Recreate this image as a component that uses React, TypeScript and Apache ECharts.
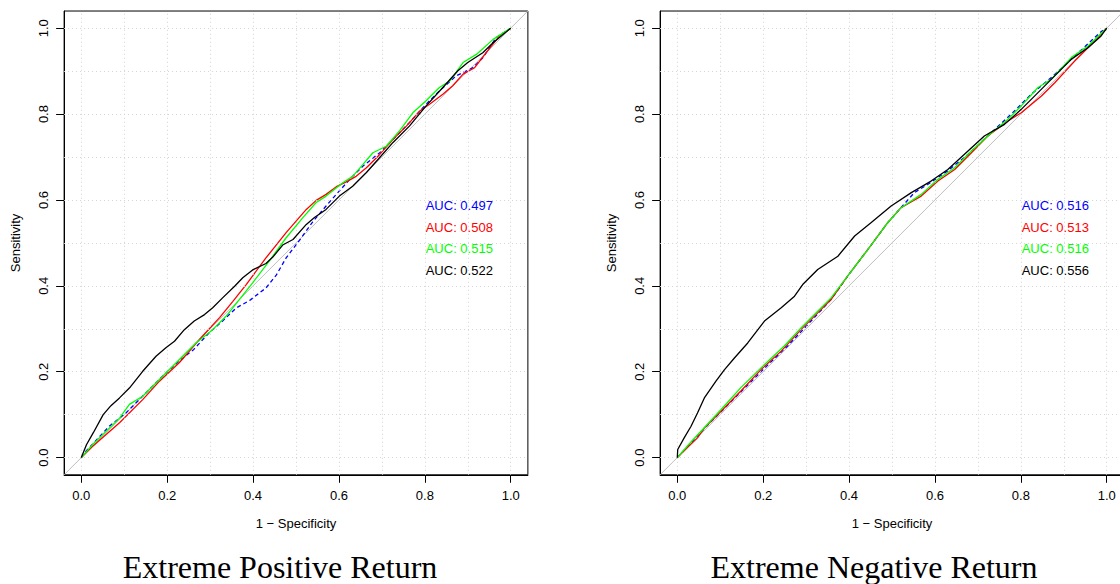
import React, { useEffect, useRef } from "react";
import * as echarts from "echarts";

// ---------- data ----------
const gridValues = [0, 0.1, 0.2, 0.3, 0.4, 0.5, 0.6, 0.7, 0.8, 0.9, 1.0];
const tickValues = [0, 0.2, 0.4, 0.6, 0.8, 1.0];
const diagonal = [[-0.04, -0.04], [1.04, 1.04]];

const panelTitles = ["Extreme Positive Return", "Extreme Negative Return"];
const xAxisTitle = "1 − Specificity";
const yAxisTitle = "Sensitivity";
const seriesColors = ["#0000ff", "#ff0000", "#00ff00", "#000000"];

const aucPos = [0.497, 0.508, 0.515, 0.522];
const aucNeg = [0.516, 0.513, 0.516, 0.556];

// Extreme Positive Return
const posBlue = [[0,0],[0.011,0.015],[0.065,0.073],[0.104,0.104],[0.151,0.151],[0.19,0.19],[0.228,0.225],[0.262,0.252],[0.298,0.291],[0.329,0.318],[0.36,0.348],[0.392,0.366],[0.43,0.395],[0.454,0.425],[0.477,0.465],[0.508,0.506],[0.539,0.549],[0.57,0.586],[0.601,0.621],[0.625,0.648],[0.656,0.679],[0.695,0.71],[0.726,0.741],[0.764,0.78],[0.803,0.823],[0.834,0.854],[0.873,0.889],[0.912,0.908],[0.935,0.931],[0.966,0.978],[1,1]];
const posRed = [[0,0],[0.026,0.026],[0.089,0.081],[0.143,0.135],[0.182,0.178],[0.228,0.221],[0.275,0.275],[0.322,0.326],[0.353,0.364],[0.384,0.403],[0.43,0.465],[0.477,0.524],[0.524,0.578],[0.547,0.599],[0.57,0.613],[0.594,0.631],[0.617,0.642],[0.64,0.655],[0.664,0.675],[0.695,0.706],[0.726,0.741],[0.757,0.772],[0.788,0.807],[0.811,0.823],[0.842,0.846],[0.865,0.866],[0.889,0.893],[0.916,0.908],[0.943,0.943],[0.974,0.982],[1,1]];
const posGreen = [[0,0],[0.026,0.03],[0.089,0.092],[0.112,0.124],[0.143,0.143],[0.182,0.182],[0.228,0.228],[0.267,0.267],[0.306,0.298],[0.337,0.329],[0.368,0.368],[0.399,0.407],[0.438,0.458],[0.477,0.512],[0.516,0.559],[0.547,0.594],[0.57,0.609],[0.609,0.64],[0.632,0.655],[0.656,0.683],[0.679,0.71],[0.71,0.725],[0.741,0.761],[0.772,0.803],[0.803,0.831],[0.834,0.862],[0.858,0.877],[0.889,0.92],[0.92,0.939],[0.959,0.974],[1,1]];
const posBlack = [[0,0],[0.012,0.03],[0.028,0.058],[0.051,0.1],[0.069,0.121],[0.089,0.139],[0.112,0.162],[0.143,0.201],[0.174,0.236],[0.197,0.256],[0.217,0.271],[0.24,0.298],[0.263,0.318],[0.287,0.333],[0.306,0.349],[0.329,0.372],[0.357,0.399],[0.376,0.419],[0.399,0.437],[0.43,0.452],[0.446,0.467],[0.469,0.495],[0.493,0.508],[0.524,0.543],[0.543,0.559],[0.57,0.578],[0.601,0.609],[0.632,0.632],[0.664,0.664],[0.695,0.699],[0.726,0.734],[0.764,0.772],[0.803,0.819],[0.842,0.862],[0.877,0.901],[0.9,0.92],[0.935,0.943],[0.959,0.966],[1,1]];

// Extreme Negative Return
const negBlue = [[0,0],[0.026,0.028],[0.071,0.076],[0.118,0.123],[0.164,0.169],[0.211,0.216],[0.257,0.26],[0.304,0.31],[0.358,0.368],[0.397,0.423],[0.444,0.485],[0.49,0.547],[0.552,0.617],[0.583,0.636],[0.63,0.668],[0.677,0.706],[0.723,0.749],[0.785,0.807],[0.824,0.846],[0.871,0.885],[0.918,0.928],[0.987,0.992],[1,1]];
const negRed = [[0,0],[0.026,0.026],[0.047,0.046],[0.063,0.069],[0.102,0.108],[0.148,0.155],[0.195,0.205],[0.242,0.248],[0.288,0.298],[0.327,0.337],[0.358,0.368],[0.397,0.423],[0.444,0.485],[0.49,0.547],[0.521,0.582],[0.568,0.609],[0.607,0.644],[0.646,0.671],[0.685,0.71],[0.723,0.749],[0.77,0.784],[0.801,0.803],[0.848,0.842],[0.879,0.873],[0.926,0.924],[0.965,0.963],[1,1]];
const negGreen = [[0,0],[0.026,0.03],[0.102,0.112],[0.148,0.163],[0.195,0.209],[0.249,0.26],[0.288,0.302],[0.327,0.341],[0.358,0.372],[0.397,0.423],[0.444,0.485],[0.49,0.547],[0.521,0.582],[0.568,0.613],[0.607,0.648],[0.646,0.675],[0.685,0.714],[0.723,0.749],[0.77,0.788],[0.801,0.819],[0.84,0.862],[0.871,0.881],[0.918,0.932],[0.957,0.959],[1,1]];
const negBlack = [[0,0],[0.001,0.019],[0.016,0.046],[0.032,0.073],[0.047,0.104],[0.063,0.139],[0.09,0.178],[0.11,0.205],[0.133,0.232],[0.164,0.267],[0.203,0.318],[0.242,0.349],[0.273,0.376],[0.292,0.403],[0.327,0.438],[0.374,0.469],[0.413,0.516],[0.451,0.547],[0.498,0.586],[0.545,0.617],[0.591,0.644],[0.63,0.671],[0.677,0.714],[0.715,0.749],[0.762,0.776],[0.801,0.811],[0.84,0.85],[0.879,0.889],[0.918,0.928],[0.957,0.955],[0.987,0.982],[1,1]];

// ---------- layout ----------
const UNIT = 429.4;
const EXT = 0.04 * UNIT;
const TOP = 28.2;
const panelX0 = [81.3, 677.3];
const titleCenters = [280, 874];
const legendYs = [205.5, 227, 248.5, 270];
const legendDx = 344.4;

const SANS = "'Liberation Sans', Arial, Helvetica, sans-serif";
const SERIF = "'Liberation Serif', 'Times New Roman', serif";

function axisCommon(name: string, rotate: number) {
  return {
    type: "value",
    min: -0.04,
    max: 1.04,
    axisLine: { show: true, onZero: false, lineStyle: { color: "#000", width: 1 } },
    axisTick: {
      show: true, inside: false, length: 8, customValues: tickValues,
      lineStyle: { color: "#000", width: 1 },
    },
    axisLabel: {
      show: true, margin: 14, rotate, fontSize: 13, color: "#000", fontFamily: SANS,
      customValues: tickValues,
      formatter: (v: number) => v.toFixed(1),
    },
    splitLine: { show: false },
    name, nameLocation: "middle", nameGap: 42,
    nameTextStyle: { fontSize: 13, color: "#000", fontFamily: SANS },
  };
}

function buildOption() {
  const grids: any[] = [];
  const xAxes: any[] = [];
  const yAxes: any[] = [];
  const series: any[] = [];
  const graphics: any[] = [];
  const panels = [
    { lines: [posBlue, posRed, posGreen, posBlack], auc: aucPos },
    { lines: [negBlue, negRed, negGreen, negBlack], auc: aucNeg },
  ];

  panels.forEach((p, i) => {
    const x0 = panelX0[i];
    grids.push({
      left: x0 - EXT,
      top: TOP - EXT,
      width: UNIT + 2 * EXT,
      height: UNIT + 2 * EXT,
      show: true,
      borderColor: "#000",
      borderWidth: 1,
      backgroundColor: "transparent",
      containLabel: false,
      outerBoundsMode: "none",
    });
    xAxes.push({ ...axisCommon(xAxisTitle, 0), gridIndex: i, position: "bottom" });
    yAxes.push({ ...axisCommon(yAxisTitle, 90), gridIndex: i, position: "left" });

    series.push({
      type: "line",
      xAxisIndex: i, yAxisIndex: i,
      data: diagonal,
      symbol: "none",
      silent: true,
      z: 1,
      lineStyle: { color: "#bebebe", width: 1 },
      markLine: {
        silent: true,
        symbol: ["none", "none"],
        label: { show: false },
        animation: false,
        lineStyle: { color: "#d3d3d3", type: [1, 3], width: 1 },
        emphasis: { disabled: true },
        data: [
          ...gridValues.map((v) => ({ xAxis: v })),
          ...gridValues.map((v) => ({ yAxis: v })),
        ],
      },
    });

    p.lines.forEach((d, k) => {
      series.push({
        type: "line",
        xAxisIndex: i, yAxisIndex: i,
        data: d,
        symbol: "none",
        silent: true,
        z: 3 + k,
        lineStyle: {
          color: seriesColors[k],
          width: 1.3,
          type: k === 0 ? [4, 3] : "solid",
        },
      });
    });

    p.auc.forEach((v, k) => {
      graphics.push({
        type: "text",
        x: x0 + legendDx,
        y: legendYs[k],
        silent: true,
        style: {
          text: "AUC: " + v.toFixed(3),
          fill: seriesColors[k],
          font: `13px ${SANS}`,
          align: "left",
          verticalAlign: "middle",
        },
      });
    });

    graphics.push({
      type: "text",
      x: titleCenters[i],
      y: 567,
      silent: true,
      style: {
        text: panelTitles[i],
        fill: "#000",
        font: `32px ${SERIF}`,
        lineHeight: 26,
        align: "center",
        verticalAlign: "middle",
      },
    });
  });

  return {
    animation: false,
    backgroundColor: "#ffffff",
    grid: grids,
    xAxis: xAxes,
    yAxis: yAxes,
    series,
    graphic: graphics,
  };
}

export default function App() {
  const ref = useRef<HTMLDivElement>(null);
  useEffect(() => {
    document.body.style.margin = "0";
    if (!ref.current) return;
    const chart = echarts.init(ref.current, null, { renderer: "svg" });
    chart.setOption(buildOption() as any);
    return () => chart.dispose();
  }, []);
  return (
    <div
      ref={ref}
      style={{ position: "absolute", left: 0, top: 0, width: 1120, height: 584 }}
    />
  );
}
